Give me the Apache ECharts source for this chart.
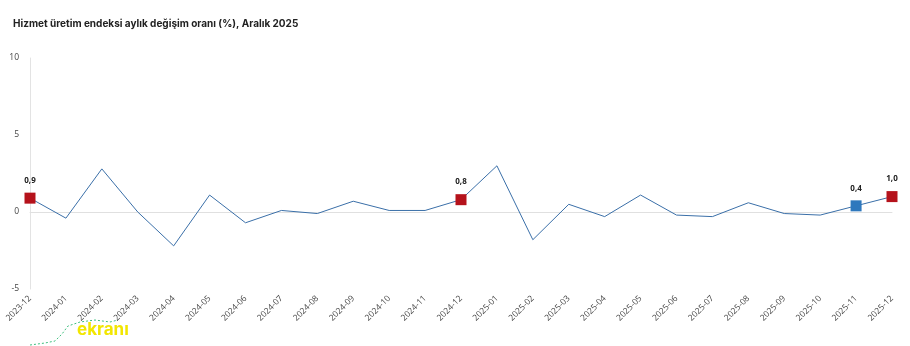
<!DOCTYPE html>
<html>
<head>
<meta charset="utf-8">
<script src="https://cdn.jsdelivr.net/npm/echarts@6/dist/echarts.min.js"></script>
<style>
  html, body { margin: 0; padding: 0; background: #ffffff; }
  #chart { width: 910px; height: 346px; }
</style>
</head>
<body>
<div id="chart"></div>
<script>
// Monthly change of the services production index (%)
const months = [
  '2023-12', '2024-01', '2024-02', '2024-03', '2024-04', '2024-05', '2024-06',
  '2024-07', '2024-08', '2024-09', '2024-10', '2024-11', '2024-12',
  '2025-01', '2025-02', '2025-03', '2025-04', '2025-05', '2025-06',
  '2025-07', '2025-08', '2025-09', '2025-10', '2025-11', '2025-12'
];
const changes = [
  0.9, -0.4, 2.8, 0.0, -2.2, 1.1, -0.7,
  0.1, -0.1, 0.7, 0.1, 0.1, 0.8,
  3.0, -1.8, 0.5, -0.3, 1.1, -0.2,
  -0.3, 0.6, -0.1, -0.2, 0.4, 1.0
];
// Highlighted months: December readings in red, the previous month in blue
const redMonths = ['2023-12', '2024-12', '2025-12'];
const blueMonths = ['2025-11'];
const yTicks = [-5, 0, 5, 10];

const RED = '#b5121b';
const BLUE = '#2e78bd';

const fmt = v => v.toFixed(1).replace('.', ',');

const highlight = months.map((m, i) => {
  if (redMonths.includes(m)) return { value: changes[i], itemStyle: { color: RED } };
  if (blueMonths.includes(m)) return { value: changes[i], itemStyle: { color: BLUE } };
  return '-';
});

const chart = echarts.init(document.getElementById('chart'));
chart.setOption({
  animation: false,
  title: {
    text: 'Hizmet üretim endeksi aylık değişim oranı (%), Aralık 2025',
    left: 8,
    top: 14,
    textStyle: { fontFamily: 'Inter', fontSize: 10, fontWeight: 'bold', color: '#222222' }
  },
  grid: { left: 30, right: 18, top: 58, bottom: 57 },
  xAxis: {
    type: 'category',
    data: months,
    boundaryGap: false,
    axisLine: { show: true, lineStyle: { color: '#e3e3e3' } },
    axisTick: { show: false },
    axisLabel: {
      rotate: 45,
      interval: 0,
      margin: 8,
      fontFamily: 'Open Sans',
      fontSize: 8.5,
      color: '#444444'
    },
    splitLine: { show: false }
  },
  yAxis: {
    type: 'value',
    min: yTicks[0],
    max: yTicks[yTicks.length - 1],
    interval: 5,
    axisLine: { show: true, onZero: false, lineStyle: { color: '#e3e3e3' } },
    axisTick: { show: false },
    splitLine: { show: false },
    axisLabel: {
      margin: 11,
      fontFamily: 'Open Sans',
      fontSize: 8.5,
      color: '#444444'
    }
  },
  series: [
    {
      type: 'line',
      data: changes,
      symbol: 'none',
      lineStyle: { color: '#3a6fa8', width: 1 },
      z: 3,
      markLine: {
        silent: true,
        symbol: 'none',
        z: 1,
        label: { show: false },
        lineStyle: { color: '#e0e0e0', width: 1, type: 'solid' },
        data: [{ yAxis: 0 }]
      }
    },
    {
      type: 'line',
      data: highlight,
      symbol: 'rect',
      symbolSize: 11,
      lineStyle: { width: 0 },
      z: 4,
      label: {
        show: true,
        position: 'top',
        distance: 8,
        formatter: p => fmt(p.value),
        fontFamily: 'Open Sans',
        fontSize: 8,
        fontWeight: 'bold',
        color: '#222222'
      }
    }
  ],
  graphic: [
    {
      type: 'text',
      left: 77,
      top: 321,
      style: {
        text: 'ekranı',
        fontFamily: 'Inter',
        fontSize: 17,
        fontWeight: 'bold',
        fill: '#f2e600'
      }
    },
    {
      type: 'polyline',
      shape: { points: [[30, 345], [45, 343], [55, 341], [62, 334], [68, 326], [80, 322], [95, 320], [110, 322], [118, 320]] },
      style: { stroke: '#3fbf7f', lineWidth: 1, lineDash: [2, 2], fill: null }
    }
  ]
});
</script>
</body>
</html>
